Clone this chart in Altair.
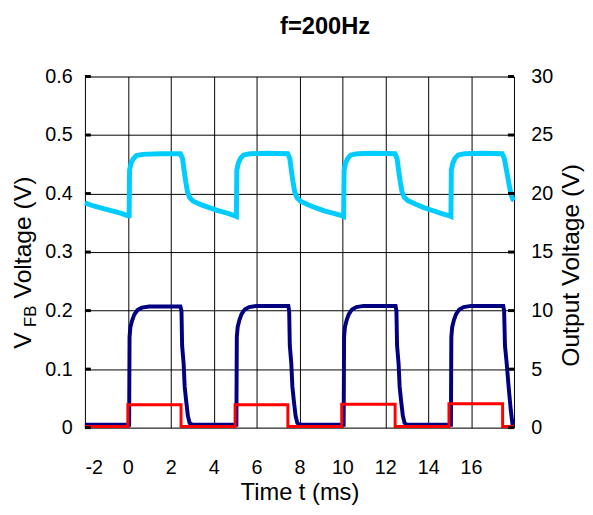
import altair as alt
import pandas as pd

# ---------------- data ----------------
# Cyan trace (left scale, V)
cyan_t = [-2.0, -1.7, -1.4, -1.0, -0.6, -0.3, 0.0, 0.06,
          0.08, 0.15, 0.25, 0.4, 0.7, 1.5, 2.45,
          2.55, 2.62, 2.7, 2.78, 2.88, 3.05, 3.4, 3.8, 4.2, 4.6, 5.0, 5.06,
          5.08, 5.15, 5.25, 5.4, 5.7, 6.5, 7.45,
          7.55, 7.62, 7.7, 7.78, 7.88, 8.05, 8.4, 8.8, 9.2, 9.6, 10.0, 10.06,
          10.08, 10.15, 10.25, 10.4, 10.7, 11.5, 12.45,
          12.55, 12.62, 12.7, 12.78, 12.88, 13.05, 13.4, 13.8, 14.2, 14.6, 15.0, 15.06,
          15.08, 15.15, 15.25, 15.4, 15.7, 16.5, 17.45,
          17.55, 17.65, 17.75, 17.85, 17.95, 18.0]
cyan_v = [0.384, 0.380, 0.377, 0.373, 0.369, 0.366, 0.362, 0.362,
          0.440, 0.452, 0.459, 0.465, 0.467, 0.468, 0.468,
          0.460, 0.440, 0.420, 0.403, 0.393, 0.387, 0.381, 0.376, 0.371, 0.367, 0.362, 0.361,
          0.440, 0.452, 0.460, 0.466, 0.468, 0.469, 0.468,
          0.460, 0.440, 0.420, 0.403, 0.393, 0.387, 0.381, 0.375, 0.370, 0.366, 0.362, 0.361,
          0.440, 0.452, 0.460, 0.466, 0.468, 0.469, 0.468,
          0.460, 0.440, 0.420, 0.403, 0.394, 0.388, 0.382, 0.376, 0.371, 0.366, 0.362, 0.361,
          0.440, 0.452, 0.460, 0.466, 0.468, 0.469, 0.468,
          0.460, 0.440, 0.420, 0.400, 0.390, 0.388]

# Navy trace (left scale, V)
navy_t = [-2.0, 0.06, 0.08, 0.12, 0.2, 0.3, 0.45, 0.65, 1.0, 2.45,
          2.5, 2.53, 2.6, 2.65, 2.72, 2.8, 2.88, 3.0, 5.06,
          5.08, 5.12, 5.2, 5.3, 5.45, 5.65, 6.0, 7.48,
          7.52, 7.55, 7.62, 7.67, 7.74, 7.82, 7.9, 8.0, 10.06,
          10.08, 10.12, 10.2, 10.3, 10.45, 10.65, 11.0, 12.48,
          12.52, 12.55, 12.62, 12.67, 12.74, 12.82, 12.9, 13.0, 15.06,
          15.08, 15.12, 15.2, 15.3, 15.45, 15.65, 16.0, 17.5,
          17.54, 17.58, 17.66, 17.75, 17.85, 17.93, 18.0]
navy_v = [0.005, 0.005, 0.155, 0.172, 0.183, 0.193, 0.201, 0.205, 0.207, 0.207,
          0.200, 0.140, 0.110, 0.070, 0.045, 0.020, 0.008, 0.005, 0.005,
          0.155, 0.172, 0.184, 0.194, 0.202, 0.206, 0.208, 0.208,
          0.200, 0.140, 0.110, 0.070, 0.045, 0.020, 0.008, 0.005, 0.005,
          0.155, 0.172, 0.184, 0.194, 0.202, 0.206, 0.208, 0.208,
          0.200, 0.140, 0.110, 0.070, 0.045, 0.020, 0.008, 0.005, 0.005,
          0.155, 0.172, 0.184, 0.194, 0.202, 0.206, 0.208, 0.208,
          0.200, 0.140, 0.110, 0.070, 0.030, 0.006, 0.005]

# Red trace (left scale, V)
red_t = [-2.0, 0.0, 0.0, 2.48, 2.48, 5.0, 5.0, 7.46, 7.46, 9.97, 9.97,
         12.46, 12.46, 14.97, 14.97, 17.47, 17.47, 18.0]
red_v = [0.002, 0.002, 0.039, 0.039, 0.002, 0.002, 0.039, 0.039, 0.002, 0.002, 0.040,
         0.040, 0.002, 0.002, 0.041, 0.041, 0.002, 0.002]

x_ticks = [-2, 0, 2, 4, 6, 8, 10, 12, 14, 16, 18]
left_ticks = [0, 0.1, 0.2, 0.3, 0.4, 0.5, 0.6]
right_ticks = [0, 5, 10, 15, 20, 25, 30]

FONT = "Liberation Sans"

series_names = ["a_cyan", "b_navy", "c_red"]
rows = []
for name, ts, vs in zip(series_names, [cyan_t, navy_t, red_t], [cyan_v, navy_v, red_v]):
    for i, (t, v) in enumerate(zip(ts, vs)):
        rows.append({"s": name, "t": t, "v": v, "i": i})
traces = pd.DataFrame(rows)

xscale = alt.Scale(domain=[-2, 18], nice=False, zero=False)
yscale = alt.Scale(domain=[0, 0.6], nice=False)

x_axis = alt.Axis(values=x_ticks, grid=True, gridColor="black", gridWidth=1, gridOpacity=1,
                  ticks=False, domain=False, labelFont=FONT, labelFontSize=20,
                  labelColor="black", labelPadding=46, labelBaseline="alphabetic",
                  labelExpr="datum.value >= 18 ? '' : '' + datum.value",
                  title="Time t (ms)", titleFont=FONT, titleFontSize=24,
                  titleFontWeight="normal", titleColor="black",
                  titleBaseline="alphabetic", titleY=73)
y_axis = alt.Axis(values=left_ticks, grid=True, gridColor="black", gridWidth=1, gridOpacity=1,
                  ticks=False, domain=False, format=".1~f", labelFont=FONT,
                  labelFontSize=20, labelColor="black", labelPadding=13, title=None)

lines = alt.Chart(traces).mark_line().encode(
    x=alt.X("t:Q", scale=xscale, axis=x_axis),
    y=alt.Y("v:Q", scale=yscale, axis=y_axis),
    color=alt.Color("s:N", scale=alt.Scale(domain=series_names,
                                           range=["#00CCFF", "#000080", "#FF0000"]),
                    legend=None),
    strokeWidth=alt.StrokeWidth("s:N", scale=alt.Scale(domain=series_names,
                                                       range=[5, 3, 2.5]),
                                legend=None),
    order="i:Q")

# inward tick marks on the left and right frame edges
tick_df = pd.DataFrame({"v": left_ticks})
ticks_left = alt.Chart(tick_df).mark_rule(color="black", strokeWidth=3).encode(
    y=alt.Y("v:Q", scale=yscale, axis=None), x=alt.value(0), x2=alt.value(6))
ticks_right = alt.Chart(tick_df).mark_rule(color="black", strokeWidth=3).encode(
    y=alt.Y("v:Q", scale=yscale, axis=None), x=alt.value(429), x2=alt.value(435))

right_df = pd.DataFrame({"r": [0, 30]})
right = alt.Chart(right_df).mark_point(opacity=0).encode(
    y=alt.Y("r:Q", scale=alt.Scale(domain=[0, 30], nice=False),
            axis=alt.Axis(orient="right", values=right_ticks, grid=False, ticks=False,
                          domain=False, labelFont=FONT, labelFontSize=20,
                          labelColor="black", labelPadding=17,
                          title="Output Voltage (V)", titleFont=FONT, titleFontSize=25,
                          titleFontWeight="normal", titleColor="black", titleAngle=270,
                          titleAlign="center", titleBaseline="alphabetic",
                          titleX=65, titleY=191)))

# Left axis title with subscript, as real text
lt_v = alt.Chart(pd.DataFrame({"s": ["V"]})).mark_text(
    angle=270, align="left", baseline="alphabetic", font=FONT, fontSize=25,
    color="black").encode(text="s:N", x=alt.value(-55), y=alt.value(276))
lt_fb = alt.Chart(pd.DataFrame({"s": ["FB"]})).mark_text(
    angle=270, align="left", baseline="alphabetic", font=FONT, fontSize=17,
    color="black").encode(text="s:N", x=alt.value(-50), y=alt.value(254))
lt_rest = alt.Chart(pd.DataFrame({"s": ["Voltage (V)"]})).mark_text(
    angle=270, align="left", baseline="alphabetic", font=FONT, fontSize=25,
    color="black").encode(text="s:N", x=alt.value(-55), y=alt.value(225))

chart = alt.layer(lines, ticks_left, ticks_right, right, lt_v, lt_fb, lt_rest).resolve_scale(
    y="independent"
).properties(
    width=435, height=356,
    title=alt.TitleParams("f=200Hz", font=FONT, fontSize=24, fontWeight="bold",
                          color="black", anchor="middle", dx=26, offset=28),
    autosize="none",
    padding={"left": 78, "top": 66, "right": 72, "bottom": 77},
).configure_view(stroke="black", strokeWidth=2).configure(background="white")

chart.save("out.html", embed_options={"renderer": "svg", "actions": False})
